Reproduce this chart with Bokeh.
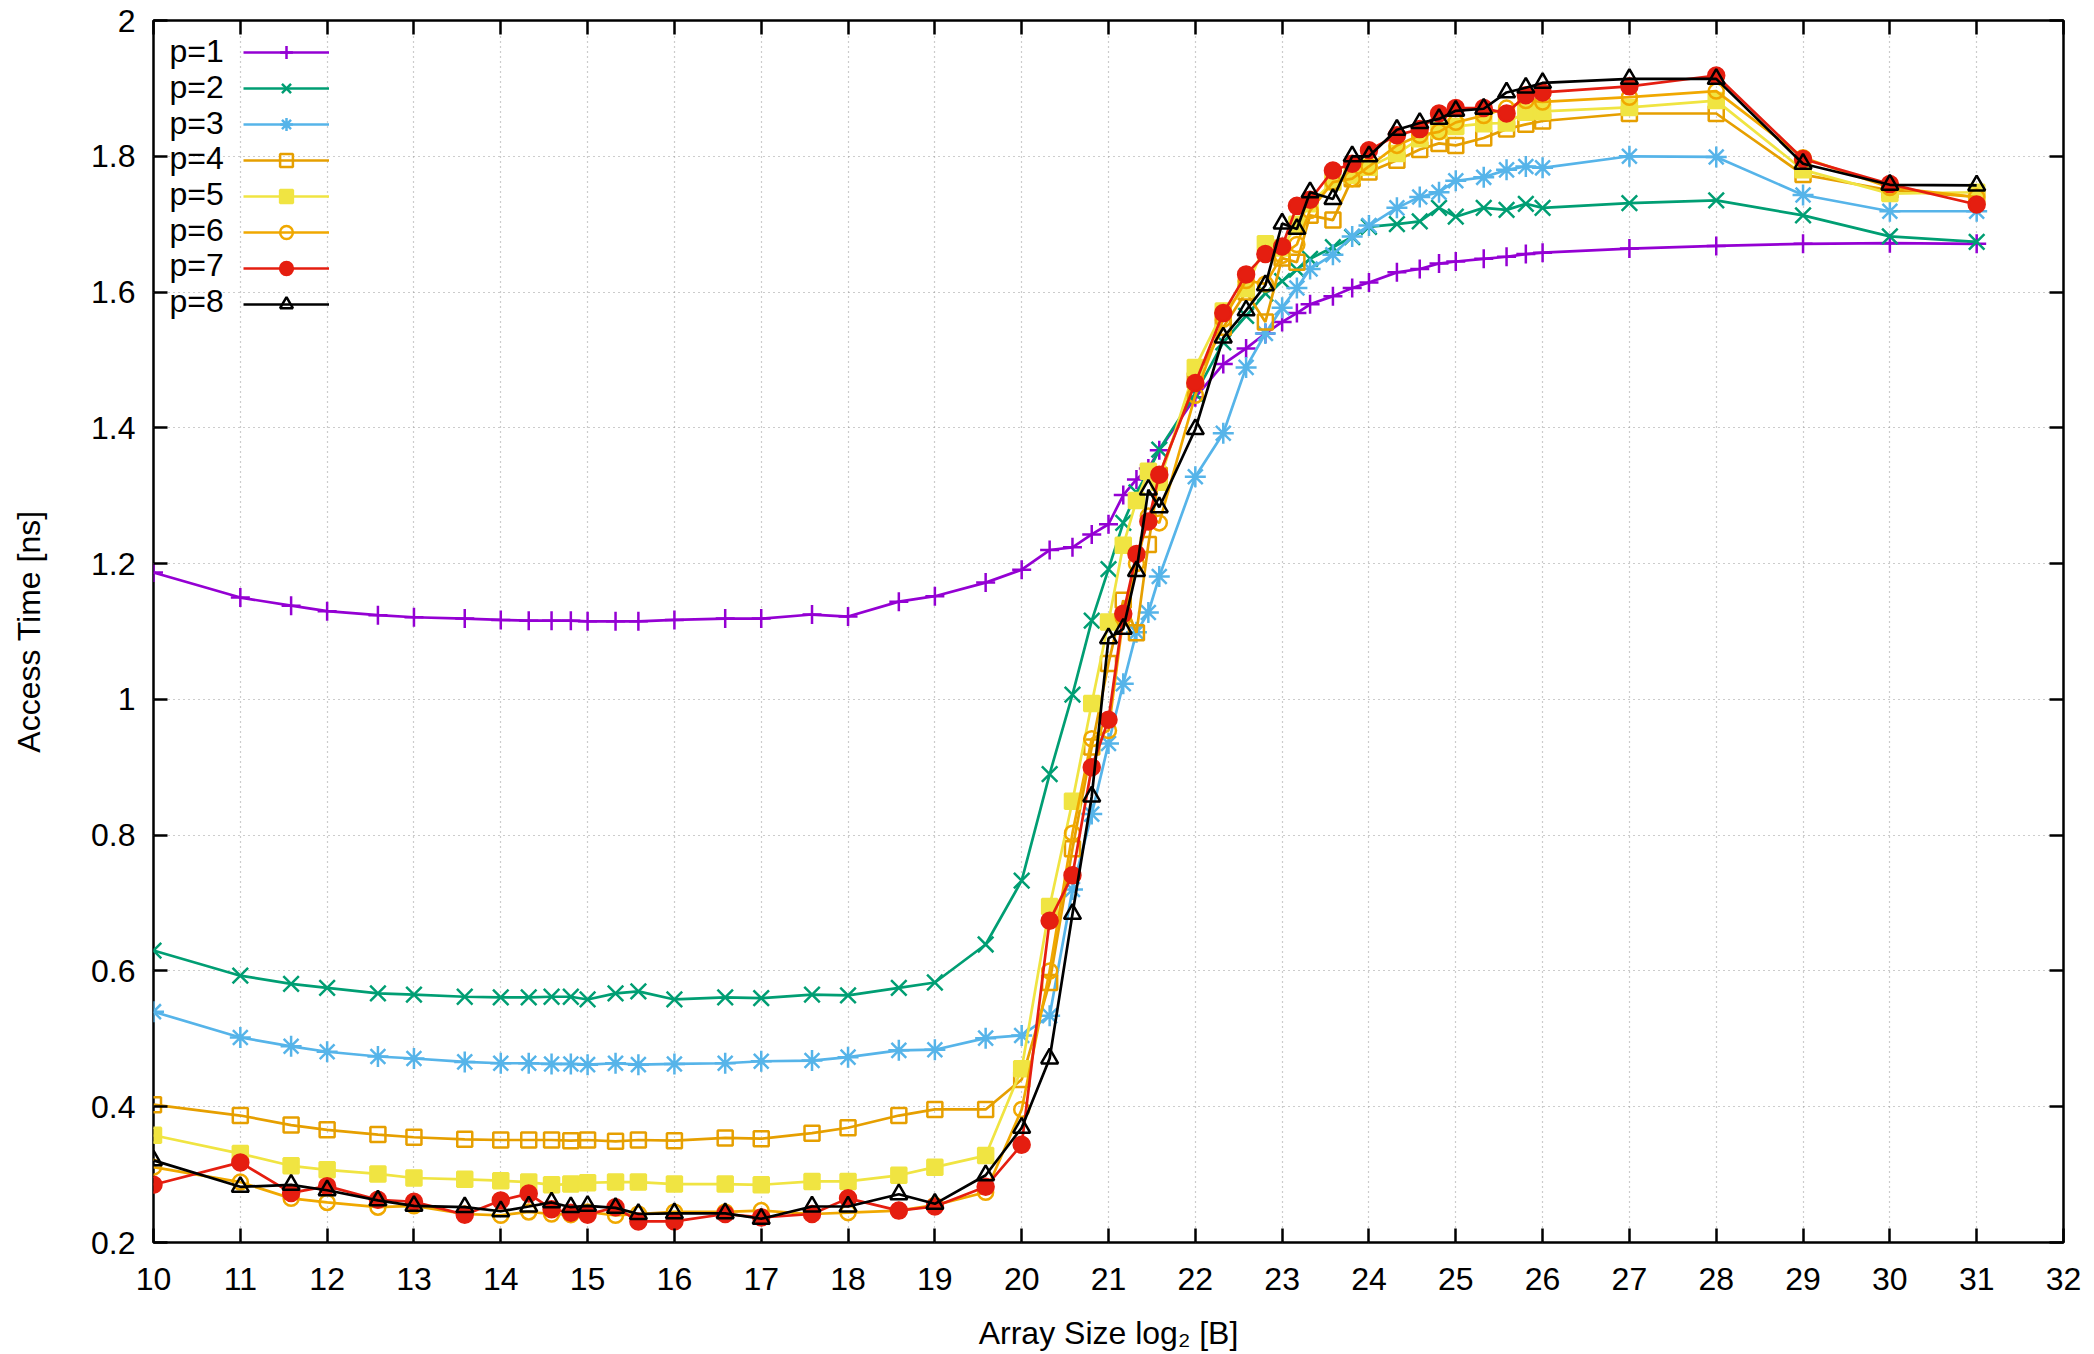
from bokeh.plotting import figure
from bokeh.models import (FixedTicker, LinearAxis, Range1d, Legend, LegendItem,
                          Label, CustomJSTickFormatter)
from bokeh.embed import file_html
from bokeh.resources import INLINE

# ---------------- data ----------------
x_log2 = [10, 11, 11.585, 12, 12.585, 13, 13.585, 14, 14.322, 14.585, 14.807, 15,
          15.322, 15.585, 16, 16.585, 17, 17.585, 18, 18.585, 19, 19.585, 20,
          20.322, 20.585, 20.807, 21, 21.170, 21.322, 21.459, 21.585, 22,
          22.322, 22.585, 22.807, 23, 23.170, 23.322, 23.585, 23.807, 24,
          24.322, 24.585, 24.807, 25, 25.322, 25.585, 25.807, 26, 27, 28, 29, 30, 31]

p1 = [1.187, 1.150, 1.138, 1.130, 1.124, 1.121, 1.119, 1.117, 1.116, 1.116, 1.116, 1.115,
      1.115, 1.115, 1.117, 1.119, 1.119, 1.125, 1.122, 1.144, 1.152, 1.172, 1.191,
      1.220, 1.224, 1.243, 1.258, 1.301, 1.324, 1.340, 1.367, 1.445,
      1.494, 1.517, 1.539, 1.556, 1.569, 1.582, 1.594, 1.606, 1.614,
      1.629, 1.634, 1.642, 1.645, 1.649, 1.652, 1.656, 1.658, 1.664, 1.668, 1.671, 1.672, 1.671]

p2 = [0.630, 0.593, 0.581, 0.575, 0.567, 0.565, 0.562, 0.561, 0.561, 0.562, 0.562, 0.558,
      0.567, 0.570, 0.558, 0.561, 0.560, 0.565, 0.564, 0.575, 0.583, 0.639, 0.733,
      0.890, 1.007, 1.116, 1.192, 1.260, 1.305, 1.335, 1.368, 1.450,
      1.526, 1.565, 1.598, 1.616, 1.633, 1.649, 1.666, 1.681, 1.696,
      1.700, 1.704, 1.724, 1.711, 1.724, 1.721, 1.730, 1.724, 1.731, 1.735, 1.713, 1.682, 1.674]

p3 = [0.540, 0.502, 0.489, 0.481, 0.474, 0.471, 0.466, 0.464, 0.464, 0.463, 0.463, 0.462,
      0.464, 0.462, 0.463, 0.464, 0.467, 0.468, 0.473, 0.483, 0.484, 0.501, 0.505,
      0.534, 0.720, 0.831, 0.935, 1.023, 1.099, 1.128, 1.181, 1.328,
      1.392, 1.489, 1.539, 1.577, 1.606, 1.634, 1.655, 1.682, 1.698,
      1.724, 1.740, 1.747, 1.764, 1.769, 1.780, 1.785, 1.783, 1.800, 1.799, 1.743, 1.719, 1.719]

p4 = [0.403, 0.387, 0.373, 0.366, 0.359, 0.355, 0.352, 0.351, 0.351, 0.351, 0.350, 0.351,
      0.349, 0.351, 0.350, 0.354, 0.353, 0.361, 0.369, 0.387, 0.396, 0.396, 0.440,
      0.583, 0.780, 0.930, 1.053, 1.146, 1.098, 1.228, 1.330, 1.470,
      1.548, 1.600, 1.556, 1.650, 1.644, 1.713, 1.706, 1.767, 1.777,
      1.794, 1.810, 1.819, 1.816, 1.827, 1.840, 1.847, 1.852, 1.863, 1.863, 1.773, 1.750, 1.740]

p5 = [0.358, 0.331, 0.313, 0.307, 0.301, 0.295, 0.293, 0.291, 0.289, 0.285, 0.286, 0.288,
      0.289, 0.289, 0.286, 0.286, 0.285, 0.290, 0.290, 0.299, 0.311, 0.328, 0.456,
      0.695, 0.850, 0.994, 1.114, 1.227, 1.293, 1.336, 1.320, 1.489,
      1.572, 1.605, 1.671, 1.665, 1.700, 1.730, 1.762, 1.772, 1.784,
      1.804, 1.826, 1.838, 1.844, 1.848, 1.849, 1.865, 1.866, 1.872, 1.882, 1.780, 1.745, 1.747]

p6 = [0.311, 0.289, 0.265, 0.259, 0.252, 0.254, 0.242, 0.240, 0.245, 0.242, 0.241, 0.245,
      0.240, 0.242, 0.245, 0.245, 0.247, 0.242, 0.244, 0.247, 0.255, 0.274, 0.396,
      0.600, 0.803, 0.942, 0.954, 1.120, 1.200, 1.270, 1.260, 1.448,
      1.560, 1.617, 1.612, 1.654, 1.670, 1.720, 1.762, 1.767, 1.785,
      1.816, 1.831, 1.836, 1.850, 1.860, 1.871, 1.882, 1.880, 1.887, 1.896, 1.798, 1.754, 1.740]

p7 = [0.285, 0.318, 0.273, 0.283, 0.263, 0.260, 0.241, 0.262, 0.272, 0.249, 0.244, 0.241,
      0.252, 0.231, 0.231, 0.242, 0.237, 0.242, 0.265, 0.247, 0.253, 0.282, 0.344,
      0.674, 0.741, 0.900, 0.970, 1.126, 1.214, 1.262, 1.331, 1.466,
      1.569, 1.626, 1.656, 1.667, 1.727, 1.736, 1.779, 1.789, 1.809,
      1.831, 1.840, 1.863, 1.871, 1.871, 1.863, 1.890, 1.894, 1.903, 1.919, 1.796, 1.759, 1.729]

p8 = [0.321, 0.282, 0.285, 0.277, 0.262, 0.254, 0.252, 0.246, 0.253, 0.259, 0.252, 0.254,
      0.251, 0.242, 0.243, 0.243, 0.235, 0.253, 0.253, 0.271, 0.257, 0.299, 0.369,
      0.471, 0.684, 0.857, 1.090, 1.104, 1.189, 1.309, 1.283, 1.398,
      1.533, 1.573, 1.610, 1.701, 1.693, 1.747, 1.737, 1.800, 1.800,
      1.839, 1.849, 1.855, 1.867, 1.870, 1.894, 1.901, 1.908, 1.914, 1.914, 1.789, 1.758, 1.757]

series = [p1, p2, p3, p4, p5, p6, p7, p8]
series_labels = ["p=1", "p=2", "p=3", "p=4", "p=5", "p=6", "p=7", "p=8"]
x_ticks = list(range(10, 33))
y_ticks = [0.2, 0.4, 0.6, 0.8, 1.0, 1.2, 1.4, 1.6, 1.8, 2.0]
x_title = "Array Size log\u2082 [B]"
y_title = "Access Time [ns]"

# ---------------- styles ----------------
colors = ["#9400D3", "#009E73", "#56B4E9", "#E69F00", "#F0E442", "#F0A800", "#E51E10", "#000000"]
markers = ["cross", "x", "asterisk", "square", "square", "circle", "circle", "triangle"]
filled = [False, False, False, False, True, False, True, False]
msizes = [19, 22, 21, 15, 15, 15, 16, 17]
FONT = "Liberation Sans"
FS = "32px"

FW, FH = 1910, 1222
p = figure(frame_width=FW, frame_height=FH,
           x_range=Range1d(10, 32), y_range=Range1d(0.2, 2.0),
           output_backend="svg", toolbar_location=None,
           min_border_left=153, min_border_right=20,
           min_border_top=20, min_border_bottom=110)
p.background_fill_color = "white"
p.border_fill_color = "white"
p.outline_line_color = "black"
p.outline_line_width = 2.5
p.outline_line_alpha = 1.0

# main axes
p.xaxis.ticker = FixedTicker(ticks=x_ticks)
p.yaxis.ticker = FixedTicker(ticks=y_ticks)
p.yaxis.formatter = CustomJSTickFormatter(code="return (Math.round(tick*10)/10).toString();")
for ax in (p.xaxis[0], p.yaxis[0]):
    ax.axis_line_color = None
    ax.major_tick_in = 14
    ax.major_tick_out = 0
    ax.major_tick_line_width = 2.5
    ax.minor_tick_line_color = None
    ax.major_label_text_font = FONT
    ax.major_label_text_font_size = FS
    ax.major_label_text_color = "black"
    ax.axis_label_text_font = FONT
    ax.axis_label_text_font_size = FS
    ax.axis_label_text_font_style = "normal"
    ax.axis_label_text_color = "black"
p.xaxis.major_label_standoff = 25
p.yaxis.major_label_standoff = 18
p.xaxis.axis_label = x_title
p.yaxis.axis_label = y_title
p.xaxis.axis_label_standoff = 22
p.yaxis.axis_label_standoff = 41

# mirrored ticks (top / right), no labels
empty = CustomJSTickFormatter(code="return '';")
top = LinearAxis(ticker=FixedTicker(ticks=x_ticks), formatter=empty)
right = LinearAxis(ticker=FixedTicker(ticks=y_ticks), formatter=empty)
for ax in (top, right):
    ax.axis_line_color = None
    ax.major_tick_in = 14
    ax.major_tick_out = 0
    ax.major_tick_line_width = 2.5
    ax.minor_tick_line_color = None
    ax.major_label_standoff = 0
    ax.major_label_text_font_size = "1px"
p.add_layout(top, "above")
p.add_layout(right, "right")

# dotted grid
for g in (p.xgrid[0], p.ygrid[0]):
    g.grid_line_color = "#9a9a9a"
    g.grid_line_width = 1.2
    g.grid_line_dash = "1 4"
p.xgrid.ticker = FixedTicker(ticks=x_ticks)
p.ygrid.ticker = FixedTicker(ticks=y_ticks)

# data
items = []
for ys, c, m, f, s in zip(series, colors, markers, filled, msizes):
    lr = p.line(x_log2, ys, line_color=c, line_width=2.7)
    sr = p.scatter(x_log2, ys, marker=m, size=s, line_color=c, line_width=2.5,
                   fill_color=c if f else None)
    items.append(LegendItem(label=" ", renderers=[lr, sr]))

# gnuplot-style key: text on the left, sample on the right
legend = Legend(items=items, location=(90, 922), glyph_width=86, glyph_height=32,
                spacing=4, padding=0, margin=0, label_standoff=0,
                label_text_font_size="1px", label_height=1, label_width=1,
                border_line_color=None, background_fill_alpha=0)
p.add_layout(legend)
row0 = FH - 31.7
for i, lab in enumerate(series_labels):
    p.add_layout(Label(x=16, y=row0 - i * 35.7 + 1, x_units="screen", y_units="screen",
                       text=lab, text_font=FONT, text_font_size=FS,
                       text_baseline="middle", text_align="left", text_color="black"))

open("out.html", "w").write(file_html(p, INLINE))
